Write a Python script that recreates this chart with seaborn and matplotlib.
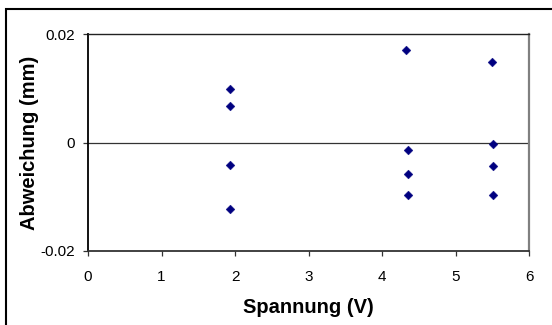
import matplotlib
matplotlib.use("Agg")
import matplotlib.pyplot as plt
import seaborn as sns
import pandas as pd
from matplotlib.patches import Rectangle

# Data
spannung = [1.93, 1.93, 1.93, 1.93,
            4.33, 4.35, 4.35, 4.35,
            5.50, 5.51, 5.51, 5.51]
abweichung = [0.0098, 0.0068, -0.0041, -0.0123,
              0.0170, -0.0013, -0.0058, -0.0097,
              0.0149, -0.0003, -0.0043, -0.0097]
x_ticks = [0, 1, 2, 3, 4, 5, 6]
y_ticks = [-0.02, 0, 0.02]
y_tick_labels = ["-0.02", "0", "0.02"]

df = pd.DataFrame({"Spannung (V)": spannung, "Abweichung (mm)": abweichung})

sns.set_theme(style="white")
plt.rcParams["font.family"] = ["Liberation Sans", "DejaVu Sans"]
plt.rcParams["text.color"] = "black"
plt.rcParams["axes.labelcolor"] = "black"

W, H = 552, 325
fig = plt.figure(figsize=(W / 100, H / 100), dpi=100)
fig.patch.set_facecolor("white")

left, right, top, bottom = 88, 529, 34, 251
ax = fig.add_axes([left / W, 1 - bottom / H, (right - left) / W, (bottom - top) / H])

ax.axhline(0, color="#333333", lw=0.9, zorder=1)
sns.scatterplot(data=df, x="Spannung (V)", y="Abweichung (mm)", ax=ax,
                marker="D", s=20, color="#000080", edgecolor="#000080",
                linewidth=0.3, zorder=3)

ax.set_xlim(0, 6)
ax.set_ylim(-0.02, 0.02)
ax.set_xticks(x_ticks)
ax.set_xticklabels([str(t) for t in x_ticks])
ax.set_yticks(y_ticks)
ax.set_yticklabels(y_tick_labels)

ax.tick_params(axis="both", direction="out", length=3.6, width=0.9,
               color="#333333", labelsize=11, labelcolor="black")
ax.tick_params(axis="x", bottom=True, pad=10)
ax.tick_params(axis="y", left=True, pad=6)

ax.set_xlabel("Spannung (V)", fontsize=14.5, fontweight="bold", labelpad=10,
              color="black")
ax.set_ylabel("Abweichung (mm)", fontsize=14.5, fontweight="bold", labelpad=1,
              color="black")

for name, sp in ax.spines.items():
    sp.set_visible(True)
ax.spines["left"].set_color("black")
ax.spines["left"].set_linewidth(1.3)
ax.spines["bottom"].set_color("#333333")
ax.spines["bottom"].set_linewidth(1.3)
ax.spines["top"].set_color("#222222")
ax.spines["top"].set_linewidth(1.0)
ax.spines["right"].set_color("#808080")
ax.spines["right"].set_linewidth(1.6)
ax.grid(False)

# outer chart border (cut off at right and bottom)
fig.patches.append(Rectangle((6 / W, -0.05), 1.2, 1 - 9 / H + 0.05,
                             transform=fig.transFigure, fill=False,
                             edgecolor="black", linewidth=1.5, zorder=0))

fig.savefig("out.png", dpi=100)
